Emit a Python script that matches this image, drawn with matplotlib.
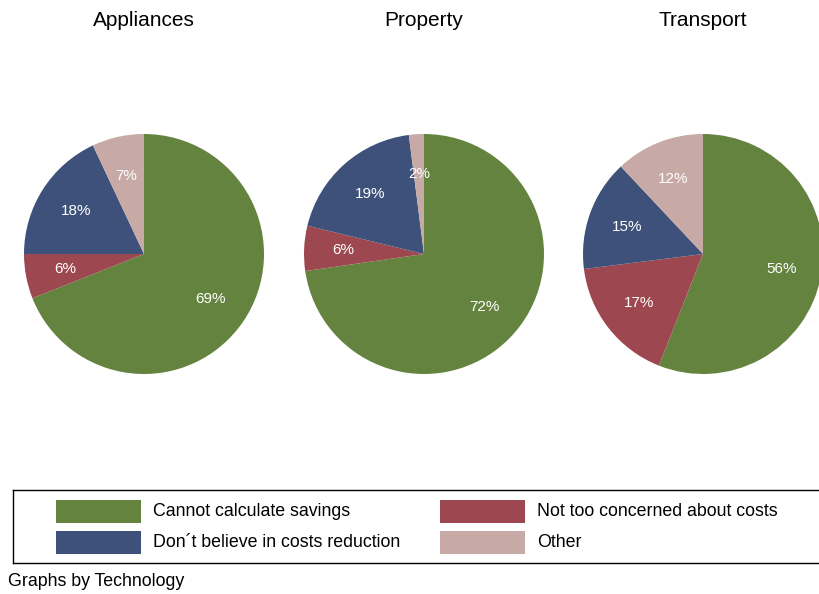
import matplotlib.pyplot as plt
from matplotlib.patches import Rectangle

plt.rcParams['font.family'] = ['Liberation Sans', 'DejaVu Sans']

# shares by reason, one pie per technology (percent)
technologies = ["Appliances", "Property", "Transport"]
reasons = ["Cannot calculate savings", "Not too concerned about costs",
           "Don\u00b4t believe in costs reduction", "Other"]
appliances = [69, 6, 18, 7]
property_ = [72, 6, 19, 2]
transport = [56, 17, 15, 12]
shares = [appliances, property_, transport]

colors = ["#64833f", "#9d4850", "#3d517a", "#c7a9a5"]

W, H = 819, 594
fig = plt.figure(figsize=(W / 100, H / 100), dpi=100)
fig.patch.set_facecolor("white")

def px_axes(x0, y0, w, h):
    # axes placed in pixel coords, y measured from the top
    return fig.add_axes([x0 / W, 1 - (y0 + h) / H, w / W, h / H])

centers = [144, 424, 703]
r = 120
cy = 254
for name, vals, cx in zip(technologies, shares, centers):
    ax = px_axes(cx - r, cy - r, 2 * r, 2 * r)
    wedges, texts = ax.pie(vals, colors=colors, startangle=90, counterclock=False,
                           labels=[f"{v}%" for v in vals], labeldistance=0.67,
                           radius=1, wedgeprops=dict(linewidth=0.4, edgecolor="none"),
                           textprops=dict(color="white", fontsize=11,
                                          ha="center", va="center"))
    ax.set_xlim(-1, 1)
    ax.set_ylim(-1, 1)
    ax.set_aspect("equal")
    ax.axis("off")
    fig.text(cx / W, 1 - 21 / H, name, ha="center", va="center", fontsize=15)

# legend box
lax = px_axes(13, 490, 810, 73)
lax.set_xlim(13, 823)
lax.set_ylim(563, 490)
lax.set_xticks([])
lax.set_yticks([])
for s in lax.spines.values():
    s.set_color("black")
    s.set_linewidth(1.0)

slots = [(56, 500), (440, 500), (56, 531), (440, 531)]
for (x, y), lab, c in zip(slots, reasons, colors):
    lax.add_patch(Rectangle((x, y), 85, 23, facecolor=c, edgecolor="none"))
    lax.text(x + 97, y + 11.5, lab, ha="left", va="center", fontsize=12.8)

fig.text(8 / W, 1 - 582 / H, "Graphs by Technology", ha="left", va="center", fontsize=12.8)

fig.savefig("out.png", dpi=100)
